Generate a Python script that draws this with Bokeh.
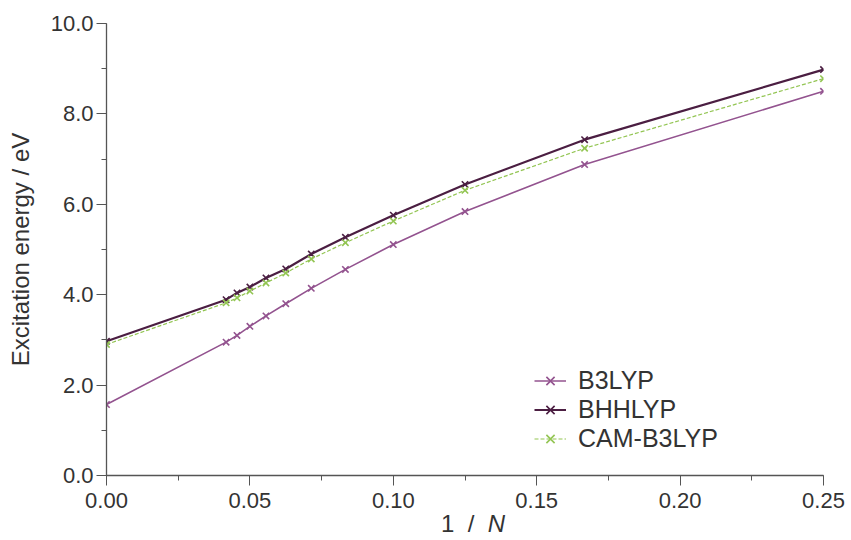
from bokeh.plotting import figure
from bokeh.models import Range1d, SingleIntervalTicker, NumeralTickFormatter, Legend, LegendItem, Div
from bokeh.layouts import column
from bokeh.embed import file_html
from bokeh.resources import INLINE

inv_n = [0.0, 0.0417, 0.0455, 0.05, 0.0556, 0.0625, 0.0714, 0.0833, 0.1, 0.125, 0.1667, 0.25]
b3lyp = [1.57, 2.95, 3.10, 3.30, 3.53, 3.80, 4.14, 4.56, 5.11, 5.84, 6.88, 8.50]
bhhlyp = [2.97, 3.89, 4.04, 4.17, 4.37, 4.57, 4.90, 5.27, 5.76, 6.44, 7.43, 8.98]
cam_b3lyp = [2.90, 3.82, 3.93, 4.08, 4.26, 4.48, 4.79, 5.15, 5.63, 6.31, 7.24, 8.78]
series_names = ["B3LYP", "BHHLYP", "CAM-B3LYP"]

FONT = "Liberation Sans"
AX = "#555555"
TXT = "#333333"

p = figure(width=851, height=518, output_backend="svg", toolbar_location=None,
           x_range=Range1d(0, 0.25), y_range=Range1d(0, 10),
           min_border_left=106, min_border_right=28, min_border_top=23, min_border_bottom=43)
p.outline_line_color = None
p.grid.visible = False
p.background_fill_color = "white"
p.border_fill_color = "white"

p.xaxis.ticker = SingleIntervalTicker(interval=0.05, num_minor_ticks=2)
p.yaxis.ticker = SingleIntervalTicker(interval=2, num_minor_ticks=2)
p.xaxis.formatter = NumeralTickFormatter(format="0.00")
p.yaxis.formatter = NumeralTickFormatter(format="0.0")
for ax in (p.xaxis, p.yaxis):
    ax.axis_line_color = AX
    ax.axis_line_width = 1.3
    ax.major_tick_line_color = AX
    ax.minor_tick_line_color = AX
    ax.major_tick_out = 10
    ax.major_tick_in = 0
    ax.minor_tick_out = 5
    ax.minor_tick_in = 0
    ax.major_label_text_font = FONT
    ax.major_label_text_font_size = "22px"
    ax.major_label_text_color = TXT
    ax.axis_label_text_font = FONT
    ax.axis_label_text_font_size = "24px"
    ax.axis_label_text_font_style = "normal"
    ax.axis_label_text_color = TXT
p.yaxis.axis_label = "Excitation energy / eV"
p.yaxis.major_label_standoff = 3
p.yaxis.axis_label_standoff = 14
p.xaxis.major_label_standoff = 7

colors = ["#93538f", "#4b1e42", "#93c553"]
widths = [1.6, 2.2, 1.2]
dashes = ["solid", "solid", "4 2"]
items = []
for name, ys, c, w, d in zip(series_names, [b3lyp, bhhlyp, cam_b3lyp], colors, widths, dashes):
    l = p.line(inv_n, ys, line_color=c, line_width=w, line_dash=d)
    s = p.scatter(inv_n, ys, marker="x", size=9, line_color=c, line_width=1.6)
    items.append(LegendItem(label=name, renderers=[l, s]))

leg = Legend(items=items, location=(428, 22), orientation="vertical",
             label_text_font=FONT, label_text_font_size="25px", label_text_color=TXT,
             glyph_width=32, glyph_height=29, label_height=29, spacing=0, padding=0, margin=0,
             label_standoff=12, border_line_color=None, background_fill_alpha=0)
p.add_layout(leg, "center")

xlabel = Div(text="1&nbsp;&nbsp;/&nbsp;&nbsp;<i>N</i>", width=851, height=22,
             styles={"font-family": FONT, "font-size": "24px", "color": TXT,
                     "line-height": "12px", "text-indent": "441px", "white-space": "nowrap",
                     "margin": "0", "padding": "0"})

layout = column(p, xlabel, spacing=0)
open("out.html", "w").write(file_html(layout, INLINE))
